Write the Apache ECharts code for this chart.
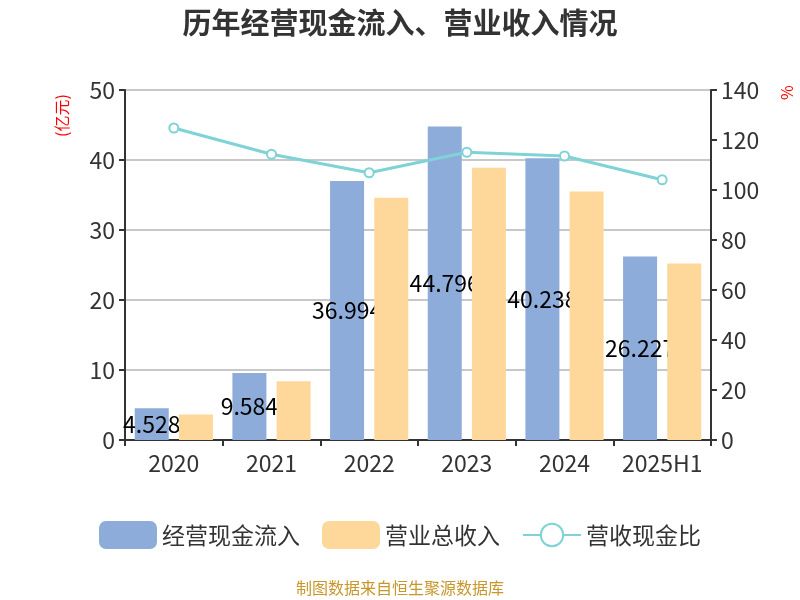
<!DOCTYPE html>
<html><head><meta charset="utf-8">
<script src="https://cdn.jsdelivr.net/npm/echarts@6/dist/echarts.min.js"></script>
<style>html,body{margin:0;padding:0;background:#fff}#c{width:800px;height:600px}</style>
</head><body><div id="c"></div>
<script>
var categories = ['2020','2021','2022','2023','2024','2025H1'];
var cashInflow = [4.528, 9.584, 36.994, 44.796, 40.238, 26.227];
var revenue = [3.63, 8.39, 34.6, 38.9, 35.5, 25.2];
var ratio = [124.8, 114.3, 106.9, 115.1, 113.6, 104.1];
var leftTicks = {min:0, max:50, interval:10};
var rightTicks = {min:0, max:140, interval:20};

var font = '"Noto Sans CJK SC", "Noto Sans", sans-serif';
var chart = echarts.init(document.getElementById('c'));
chart.setOption({
  animation:false,
  textStyle:{fontFamily:font},
  title:{text:'历年经营现金流入、营业收入情况', left:'center', top:3,
    textStyle:{fontSize:29, fontWeight:'bold', color:'#333', fontFamily:font}},
  grid:{left:125, right:89, top:90, bottom:160},
  legend:{bottom:46, left:'center', itemWidth:58, itemHeight:28, itemGap:22,
    textStyle:{fontSize:23, color:'#333', fontFamily:font},
    data:[{name:'经营现金流入', itemStyle:{borderRadius:6}},{name:'营业总收入', itemStyle:{borderRadius:6}},{name:'营收现金比'}]},
  xAxis:{type:'category', data:categories, boundaryGap:true,
    axisLine:{lineStyle:{color:'#333', width:2}},
    axisTick:{show:true, length:6, lineStyle:{color:'#333', width:2}},
    axisLabel:{fontSize:23, color:'#333', margin:12, interval:0, hideOverlap:false}},
  yAxis:[
    {type:'value', min:leftTicks.min, max:leftTicks.max, interval:leftTicks.interval,
      axisLine:{show:true, lineStyle:{color:'#333', width:2}},
      axisTick:{show:true, length:6, lineStyle:{color:'#333', width:2}},
      axisLabel:{fontSize:23, color:'#333', margin:10},
      splitLine:{lineStyle:{color:'#c8c8c8', width:2}}},
    {type:'value', min:rightTicks.min, max:rightTicks.max, interval:rightTicks.interval,
      axisLine:{show:true, lineStyle:{color:'#333', width:2}},
      axisTick:{show:true, length:6, lineStyle:{color:'#333', width:2}},
      axisLabel:{fontSize:23, color:'#333', margin:10},
      splitLine:{show:false}}
  ],
  graphic:[
    {type:'text', x:54, y:137, rotation:Math.PI/2,
      style:{text:'(亿元)', fill:'#ff0000', fontSize:16, fontFamily:font}},
    {type:'text', x:779, y:100, rotation:Math.PI/2,
      style:{text:'%', fill:'#ff0000', fontSize:16, fontFamily:font}},
    {type:'text', left:'center', top:580,
      style:{text:'制图数据来自恒生聚源数据库', fill:'#c8962a', fontSize:16, fontFamily:font}}
  ],
  series:[
    {name:'经营现金流入', type:'bar', data:cashInflow, z:2, barWidth:34, barGap:'30%',
      itemStyle:{color:'#8eacd9'},
      label:{show:true, position:'inside', color:'#000', fontSize:23, fontFamily:font}},
    {name:'营业总收入', type:'bar', data:revenue, z:3, barWidth:34,
      itemStyle:{color:'#fed89a'}},
    {name:'营收现金比', type:'line', yAxisIndex:1, data:ratio, z:5,
      symbol:'emptyCircle', symbolSize:9,
      lineStyle:{color:'#7fd3d6', width:3},
      itemStyle:{color:'#7fd3d6', borderWidth:2}}
  ]
});
</script></body></html>
